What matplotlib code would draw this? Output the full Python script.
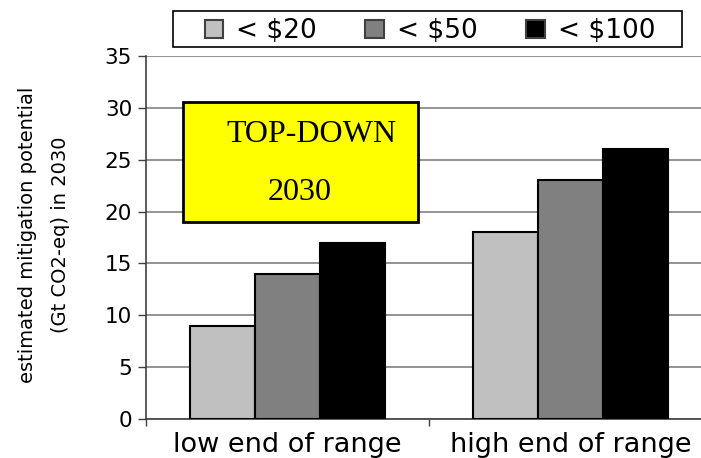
import matplotlib
matplotlib.use('Agg')
import matplotlib.pyplot as plt
from matplotlib.patches import Rectangle
import numpy as np

categories = ['low end of range', 'high end of range']
series_names = ['< $20', '< $50', '< $100']
values_20 = [9, 18]
values_50 = [14, 23]
values_100 = [17, 26]
colors = ['#C0C0C0', '#808080', '#000000']
yticks = [0, 5, 10, 15, 20, 25, 30, 35]

fig = plt.figure(figsize=(7.01, 4.58), dpi=100)
# axes runs past the right edge of the picture, like the cropped original
ax = fig.add_axes([146 / 701, 1 - 419 / 458, 566 / 701, 363 / 458])

x = np.arange(len(categories))
w = 0.23
series = [values_20, values_50, values_100]
handles = []
for i, (vals, col, name) in enumerate(zip(series, colors, series_names)):
    h = ax.bar(x + (i - 1) * w, vals, width=w, color=col, edgecolor='black',
               linewidth=1.5, label=name, zorder=3)
    handles.append(h)

ax.set_xlim(-0.5, 1.5)
ax.set_ylim(0, 35)
ax.set_yticks(yticks)
ax.yaxis.grid(True, color='#808080', linewidth=1.2, zorder=0)
for s in ['top', 'right']:
    ax.spines[s].set_visible(False)
for s in ['left', 'bottom']:
    ax.spines[s].set_color('#404040')
    ax.spines[s].set_linewidth(1.2)

ax.set_xticks(x)
ax.set_xticklabels(categories, fontsize=19.5)
ax.set_xticks([-0.5, 0.5, 1.5], minor=True)
ax.tick_params(axis='x', which='major', length=0, pad=9)
ax.tick_params(axis='x', which='minor', length=5, width=1, color='#404040')
ax.tick_params(axis='y', length=6, width=1, color='#404040', labelsize=15.5, pad=4)

fig.text(44 / 701, 1 - 235 / 458,
         'estimated mitigation potential\n(Gt CO2-eq) in 2030',
         rotation=90, ha='center', va='center', fontsize=14,
         multialignment='center', linespacing=1.9)

# yellow label box
ax.add_patch(Rectangle((0.065, 0.543), 0.415, 0.331, transform=ax.transAxes,
                       facecolor='#FFFF00', edgecolor='black', linewidth=2, zorder=5))
ax.text(0.293, 0.785, 'TOP-DOWN', transform=ax.transAxes, ha='center', va='center',
        fontsize=23, family='Liberation Serif', zorder=6)
ax.text(0.272, 0.625, '2030', transform=ax.transAxes, ha='center', va='center',
        fontsize=23, family='Liberation Serif', zorder=6)

# legend frame drawn separately, entries spread inside it
fig.patches.append(Rectangle((173 / 701, 1 - 47 / 458), 509 / 701, 36 / 458,
                             transform=fig.transFigure, facecolor='white',
                             edgecolor='black', linewidth=1.2))
leg = fig.legend(handles=handles, labels=series_names, ncol=3,
                 loc='lower left', bbox_to_anchor=(202 / 701, 1 - 47 / 458, 456 / 701, 36 / 458),
                 mode='expand', fontsize=19, frameon=False,
                 handlelength=0.7, handleheight=0.7,
                 handletextpad=0.5, borderpad=0.1, borderaxespad=0)
for p in leg.get_patches():
    p.set_edgecolor('#404040')

fig.savefig('out.png', dpi=100)
